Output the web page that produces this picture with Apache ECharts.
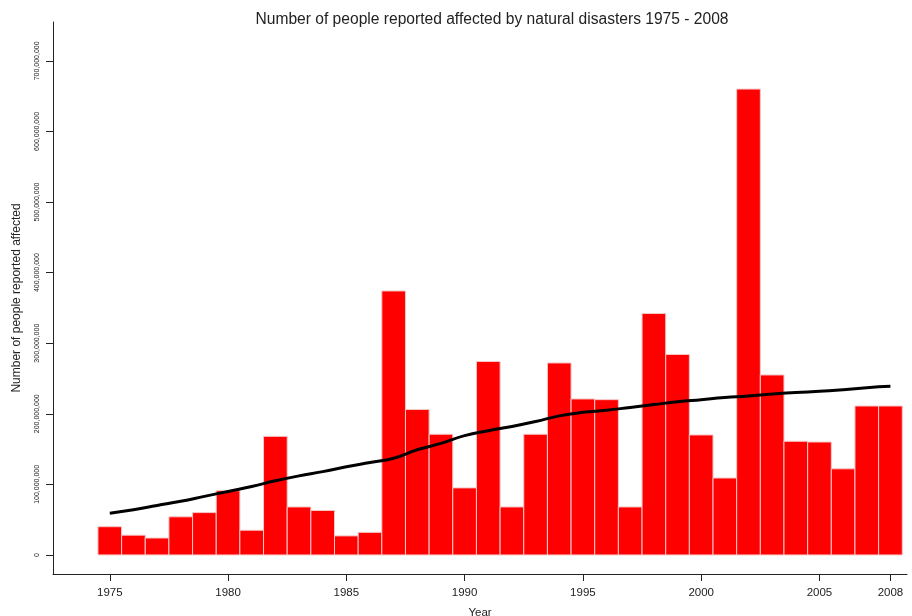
<!DOCTYPE html>
<html>
<head>
<meta charset="utf-8">
<script src="https://cdn.jsdelivr.net/npm/echarts@6/dist/echarts.min.js"></script>
<style>html,body{margin:0;padding:0;background:#fff;}#c{width:912px;height:616px;}</style>
</head>
<body>
<div id="c"></div>
<script>
const years = [1975,1976,1977,1978,1979,1980,1981,1982,1983,1984,1985,1986,1987,1988,1989,1990,1991,1992,1993,1994,1995,1996,1997,1998,1999,2000,2001,2002,2003,2004,2005,2006,2007,2008];
const affected = [40,28,24,54,60,91,35,168,68,63,27,32,374,206,171,95,274,68,171,272,221,220,68,342,284,170,109,660,255,161,160,122,211,211].map(v => v * 1e6);
const trend = [59,64,70,76,83,90,97,105,112,118,125,131,137,149,158,169,176,182,189,197,202,205,209,213,217,220,223,225,228,230,232,234,237,239].map(v => v * 1e6);
const xTicks = [1975,1980,1985,1990,1995,2000,2005,2008];
const yTicks = [0,100e6,200e6,300e6,400e6,500e6,600e6,700e6];

const chart = echarts.init(document.getElementById('c'), null, {renderer:'canvas'});
const fmt = v => Math.round(v).toString().replace(/\B(?=(\d{3})+(?!\d))/g, ',');
chart.setOption({
  animation:false,
  backgroundColor:'#ffffff',
  title:{text:'Number of people reported affected by natural disasters 1975 - 2008', left:487, textAlign:'center', top:7,
    textStyle:{fontFamily:'Liberation Sans, Arial', fontSize:15.6, fontWeight:'normal', color:'#222'}},
  grid:{left:53, right:5, top:22, bottom:42, outerBoundsMode:'none', containLabel:false},
  xAxis:{type:'value', min:1972.6, max:2008.7, name:'Year', nameLocation:'middle', nameGap:33,
    nameTextStyle:{fontFamily:'Liberation Sans, Arial', fontSize:11.5, color:'#222'},
    axisLine:{onZero:false, lineStyle:{color:'#222', width:1}}, splitLine:{show:false},
    axisTick:{customValues:xTicks, length:7, lineStyle:{color:'#222'}},
    axisLabel:{customValues:xTicks, formatter:v=>String(v), fontFamily:'Liberation Sans, Arial', fontSize:11.5, color:'#222', margin:13}},
  yAxis:{type:'value', min:-27e6, max:755e6, name:'Number of people reported affected', nameLocation:'middle', nameGap:30,
    nameTextStyle:{fontFamily:'Liberation Sans, Arial', fontSize:12, color:'#222'},
    axisLine:{show:true, onZero:false, lineStyle:{color:'#222', width:1}}, splitLine:{show:false},
    axisTick:{show:true, customValues:yTicks, length:7, lineStyle:{color:'#222'}},
    axisLabel:{customValues:yTicks, formatter:fmt, rotate:90, fontFamily:'Liberation Sans, Arial', fontSize:7, color:'#222', margin:12}},
  series:[
    {type:'custom', data: years.map((y,i)=>[y, affected[i]]), z:2,
      renderItem:(params, api)=>{
        const x = api.value(0), v = api.value(1);
        const p1 = api.coord([x-0.5, v]);
        const p2 = api.coord([x+0.5, 0]);
        return {type:'rect', shape:{x:p1[0], y:p1[1], width:p2[0]-p1[0], height:p2[1]-p1[1]},
          style:{fill:'#ff0000', stroke:'#f5c8c8', lineWidth:1}};
      }},
    {type:'line', data: years.map((y,i)=>[y, trend[i]]), smooth:true, symbol:'none', z:3,
      lineStyle:{color:'#000', width:3}}
  ]
});
</script>
</body>
</html>
